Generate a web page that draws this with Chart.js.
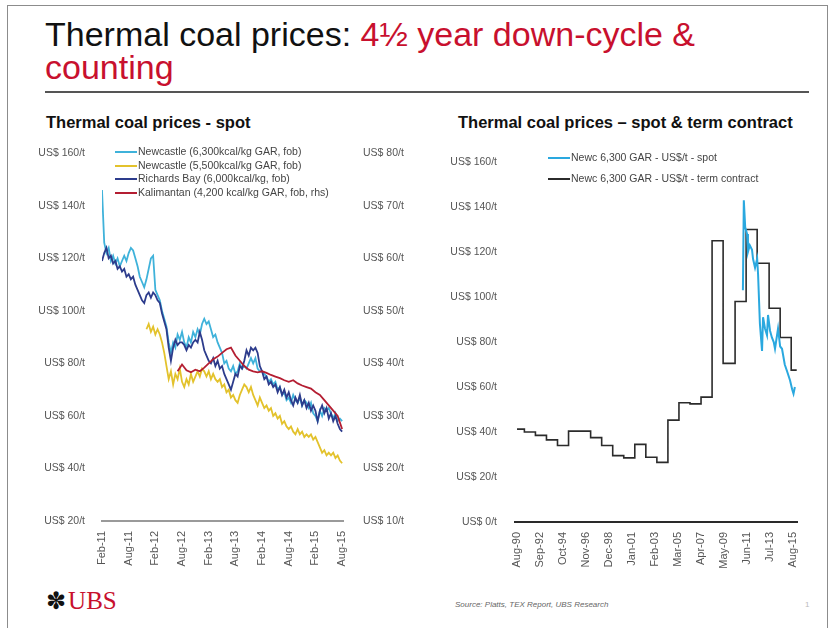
<!DOCTYPE html>
<html><head><meta charset="utf-8">
<script src="https://cdn.jsdelivr.net/npm/chart.js@4.4.1/dist/chart.umd.min.js"></script>
<style>
body{margin:0;width:833px;height:628px;background:#fff;position:relative;overflow:hidden;font-family:'Liberation Sans',Arial,sans-serif}
.abs{position:absolute}
#frame{left:7px;top:5px;width:819px;height:660px;border:1px solid #8c8c8c}
#title{left:45px;top:18px;font-size:34px;line-height:33px;color:#111;white-space:nowrap}
#title .red{color:#C8102E}
#rule{left:45px;top:91px;width:764px;height:2px;background:#555}
.sub{font-weight:bold;font-size:16.5px;line-height:18px;color:#111;white-space:nowrap;top:113px}
.leg{font-size:10.5px;color:#444;white-space:nowrap;height:12px;line-height:12px}
.leg i{display:inline-block;width:22px;height:2px;vertical-align:middle;margin-right:1px}
#logo{left:46px;top:587px;white-space:nowrap}
#logo .k{font-family:'DejaVu Sans';font-size:24px;color:#111;vertical-align:middle}
#logo .u{font-family:'Liberation Serif',serif;font-size:25px;color:#C8102E;vertical-align:middle;margin-left:2px}
#src{left:455px;top:600px;font-size:8px;font-style:italic;color:#666;white-space:nowrap}
#pg{left:805px;top:600px;font-size:8px;color:#bbb}
</style></head><body>
<div id="frame" class="abs"></div>
<div id="title" class="abs">Thermal coal prices: <span class="red">4½ year down-cycle &amp;<br>counting</span></div>
<div id="rule" class="abs"></div>
<div class="abs sub" style="left:46px">Thermal coal prices - spot</div>
<div class="abs sub" style="left:458px">Thermal coal prices – spot &amp; term contract</div>
<canvas id="cL" class="abs" width="390" height="440" style="left:30px;top:135px"></canvas>
<canvas id="cR" class="abs" width="380" height="440" style="left:440px;top:135px"></canvas>
<div id="legL"></div>
<div id="legR"></div>
<div id="logo" class="abs"><span class="k">✽</span><span class="u">UBS</span></div>
<div id="src" class="abs">Source: Platts, TEX Report, UBS Research</div>
<div id="pg" class="abs">1</div>
<script>
// ---------- Left chart: spot prices (months since Feb-11) ----------
const LEFT_TICK_LABELS = ['Feb-11','Aug-11','Feb-12','Aug-12','Feb-13','Aug-13','Feb-14','Aug-14','Feb-15','Aug-15'];
// half-monthly, from Feb-11
const NEWC6300 = [
 146,126,122,124,119,121,118,120,117,119,121,119,
 122,124,123,120,117,113,111,109,112,116,120,121,
 108,106,104,100,97,94,88,84,88,86,91,89,
 92,88,86,90,88,92,90,93,91,95,97,95,
 96,93,90,91,88,86,84,80,81,78,77,79,
 76,77,80,78,79,78,80,82,80,82,78,77,
 77,76,75,73,74,72,73,70,71,68,69,66,
 67,65,68,66,65,67,64,66,65,63,65,61,
 60,58,62,60,63,62,63,61,59,61,58,59,
 58];
const RICHARDS_BAY = [
 119,122,124,120,121,118,119,116,117,115,116,113,
 114,112,113,110,108,106,104,103,106,107,105,107,
 106,104,103,99,96,93,86,81,86,89,87,88,
 88,87,85,87,86,88,89,88,92,89,85,83,
 81,80,82,79,81,78,79,76,74,72,70,73,
 76,75,79,78,81,85,83,86,85,86,84,79,
 77,74,75,72,73,71,72,69,71,68,70,67,
 69,66,64,67,65,68,64,66,63,65,62,64,
 62,58,62,64,61,63,59,61,58,60,57,55,
 54];
// half-monthly, from Dec-11
const NEWC5500 = [
 93,95,92,94,91,93,91,88,84,79,74,77,
 72,76,74,78,73,71,74,72,76,73,75,77,
 75,78,77,75,77,74,76,74,73,74,71,72,
 69,70,67,68,66,65,68,70,72,71,69,71,
 68,66,64,67,65,63,64,62,63,60,61,59,
 60,57,58,56,55,56,54,53,55,53,54,52,
 53,52,53,51,52,50,48,46,47,45,46,45,
 46,44,45,43,
 42];
// monthly, from Jul-12 (right-hand scale)
const KALIMANTAN = [
 38.5,39.8,38.7,38.3,38.8,38.5,39.2,40,40.8,41.3,42,42.7,43,
 41.5,40.5,39.5,38.8,38.5,38.3,38.5,38.2,37.8,37.5,37.2,36.8,
 36.5,36.8,36.2,35.8,35.5,35.2,34.5,34,33,32,31,30,27.5];

// ---------- Right chart: spot & term contract (months since Aug-90) ----------
const RIGHT_TICK_LABELS = ['Aug-90','Sep-92','Oct-94','Nov-96','Dec-98','Jan-01','Feb-03','Mar-05','Apr-07','May-09','Jun-11','Jul-13','Aug-15'];
const CONTRACT_MONTHS = [0,8,20,32,44,56,68,80,92,104,116,128,140,152,164,176,188,200,212,224,237,249,261,274,286,298,304];
const CONTRACT_PRICES = [41.3,40,38.5,36.5,34,40.4,40.4,37.5,34,29.5,28.5,34.5,28.8,26.5,45.3,53,52.5,55.5,125,70.5,98,130,115,95,82,67.5,67.5];
const SPOT_MONTHS = [245.5,246.5,248,250,251,253,255.4,256.5,258.7,261,262,264,266.3,267.4,269.5,271.7,272.8,275,277,279,280.4,283.7,286,288,291,293.5,296.7,299,300.5,302];
const SPOT_PRICES = [103,143,131,128,120,123,121,117,113,117,110,88,76,91,86,83,92,85,82,80,77,86,78,77,70,67,63,59,57,60];

const C = {cyan:'#3FB2DA', yellow:'#E3C22C', navy:'#2D3C8C', red:'#B41E32', spot:'#2AA8DF', contract:'#2b2b2b'};
const FONT = "'Liberation Sans', Arial, sans-serif";

function halfMonthly(values, start, step){ return values.map((v,i)=>({x:start+i*step, y:v})); }
function paired(xs, ys){ return xs.map((x,i)=>({x:x, y:ys[i]})); }

const leftDatasets = [
 {label:'Newcastle (6,300kcal/kg GAR, fob)', data:halfMonthly(NEWC6300,0,0.5), borderColor:C.cyan, yAxisID:'y', order:3},
 {label:'Newcastle (5,500kcal/kg GAR, fob)', data:halfMonthly(NEWC5500,10,0.5), borderColor:C.yellow, yAxisID:'y', order:4},
 {label:'Richards Bay (6,000kcal/kg, fob)', data:halfMonthly(RICHARDS_BAY,0,0.5), borderColor:C.navy, yAxisID:'y', order:2},
 {label:'Kalimantan (4,200 kcal/kg GAR, fob, rhs)', data:halfMonthly(KALIMANTAN,17,1), borderColor:C.red, yAxisID:'y2', order:1}
];
leftDatasets.forEach(d=>{d.borderWidth=1.8; d.pointRadius=0; d.tension=0; d.fill=false;});

const tickFont = {family:FONT, size:10.5};
const common = {
 responsive:false, animation:false, devicePixelRatio:1,
 plugins:{legend:{display:false}, tooltip:{enabled:false}},
 events:[]
};

new Chart(document.getElementById('cL'), {
 type:'line',
 data:{datasets:leftDatasets},
 options:Object.assign({}, common, {
  layout:{padding:{top:18,left:0,right:0,bottom:0}},
  scales:{
   x:{type:'linear', min:0, max:54.2,
      afterBuildTicks:(s)=>{ s.ticks = LEFT_TICK_LABELS.map((_,i)=>({value:i*6})); },
      afterFit:(s)=>{ s.height = 54; },
      ticks:{autoSkip:false, maxRotation:90, minRotation:90, padding:2, color:'#555', font:{family:FONT,size:11},
             callback:(v)=>LEFT_TICK_LABELS[Math.round(v/6)]},
      grid:{display:false}, border:{display:true, color:'#9a9a9a', width:2}},
   y:{position:'left', min:20, max:160,
      afterFit:(s)=>{ s.width = 72; },
      ticks:{stepSize:20, padding:9, color:'#555', font:tickFont, callback:(v)=>'US$ '+v+'/t'},
      grid:{display:false}, border:{display:false}},
   y2:{position:'right', min:10, max:80,
      afterFit:(s)=>{ s.width = 77; },
      ticks:{stepSize:10, padding:12, color:'#555', font:tickFont, callback:(v)=>'US$ '+v+'/t'},
      grid:{display:false}, border:{display:false}}
  }
 })
});

const rightDatasets = [
 {label:'Newc 6,300 GAR - US$/t - spot', data:paired(SPOT_MONTHS,SPOT_PRICES), borderColor:C.spot, borderWidth:2, order:1},
 {label:'Newc 6,300 GAR - US$/t - term contract', data:paired(CONTRACT_MONTHS,CONTRACT_PRICES), borderColor:C.contract, borderWidth:1.6, stepped:true, order:2}
];
rightDatasets.forEach(d=>{d.pointRadius=0; d.tension=0; d.fill=false;});

new Chart(document.getElementById('cR'), {
 type:'line',
 data:{datasets:rightDatasets},
 options:Object.assign({}, common, {
  layout:{padding:{top:27,left:0,right:23,bottom:0}},
  scales:{
   x:{type:'linear', min:-2.2, max:304.3,
      afterBuildTicks:(s)=>{ s.ticks = RIGHT_TICK_LABELS.map((_,i)=>({value:i*25})); },
      afterFit:(s)=>{ s.height = 53; },
      ticks:{autoSkip:false, maxRotation:90, minRotation:90, padding:2, color:'#555', font:{family:FONT,size:11},
             callback:(v)=>RIGHT_TICK_LABELS[Math.round(v/25)]},
      grid:{display:false}, border:{display:true, color:'#2a2a2a', width:2}},
   y:{position:'left', min:0, max:160,
      afterFit:(s)=>{ s.width = 75; },
      ticks:{stepSize:20, padding:10, color:'#555', font:tickFont, callback:(v)=>'US$ '+v+'/t'},
      grid:{display:false}, border:{display:false}}
  }
 })
});

// legends (HTML text)
function buildLegend(el, datasets, left, tops){
 datasets.forEach((d,i)=>{
  const row = document.createElement('div');
  row.className = 'abs leg';
  row.style.left = left+'px';
  row.style.top = (tops[i]-6)+'px';
  const sw = document.createElement('i');
  sw.style.background = d.borderColor;
  row.appendChild(sw);
  row.appendChild(document.createTextNode(d.label));
  el.appendChild(row);
 });
}
buildLegend(document.getElementById('legL'), leftDatasets, 115, [151,164.5,178,191.5]);
buildLegend(document.getElementById('legR'), rightDatasets, 548, [157,178]);
</script>
</body></html>
